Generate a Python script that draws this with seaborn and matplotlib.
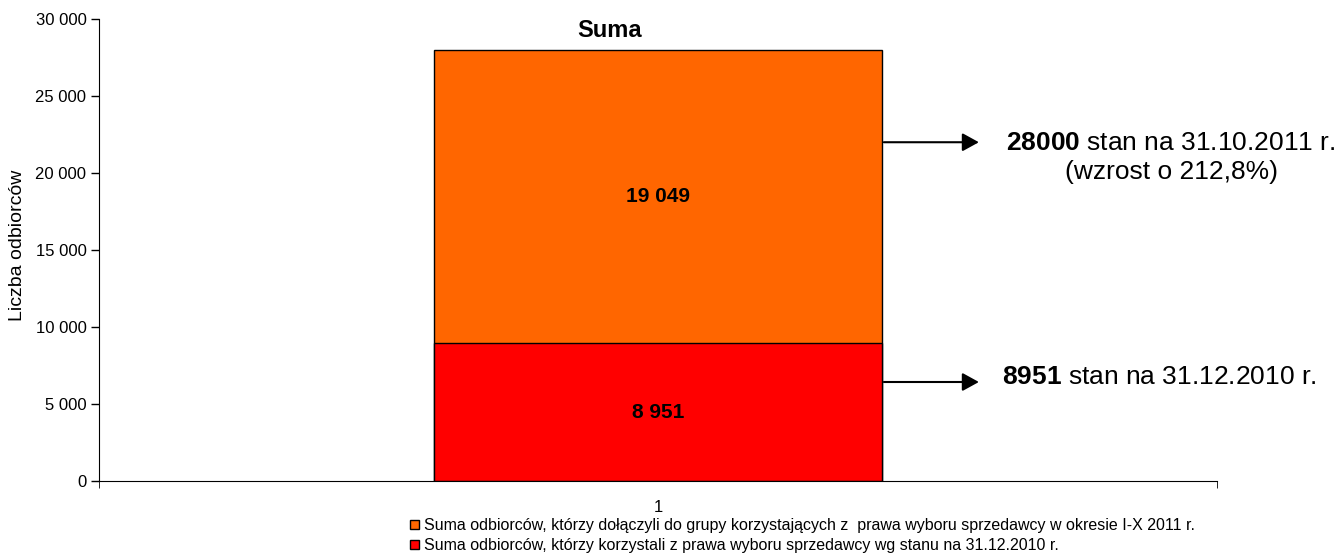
import matplotlib
matplotlib.use("Agg")
import matplotlib.pyplot as plt
import seaborn as sns
import pandas as pd

categories = ["1"]
base_values = [8951]      # stan na 31.12.2010
added_values = [19049]    # dołączyli w okresie I-X 2011
total_values = [b + a for b, a in zip(base_values, added_values)]
growth_pct = "212,8%"

label_added = ("Suma odbiorców, którzy dołączyli do grupy korzystających z  prawa "
               "wyboru sprzedawcy w okresie I-X 2011 r.")
label_base = ("Suma odbiorców, którzy korzystali z prawa wyboru sprzedawcy "
              "wg stanu na 31.12.2010 r.")

sns.set_style("white")
plt.rcParams["font.family"] = ["Liberation Sans", "DejaVu Sans"]
plt.rcParams["mathtext.fontset"] = "custom"
plt.rcParams["mathtext.rm"] = "Liberation Sans"
plt.rcParams["mathtext.bf"] = "Liberation Sans:bold"
for k in ["text.color", "axes.labelcolor", "xtick.color", "ytick.color"]:
    plt.rcParams[k] = "black"

df = pd.DataFrame({"kat": categories, "base": base_values, "total": total_values})


def fmt(v):
    return f"{v:,.0f}".replace(",", " ")


fig = plt.figure(figsize=(13.43, 5.55), dpi=100)
ax = fig.add_axes([0.0737, 0.1333, 0.8325, 0.8324])

sns.barplot(data=df, x="kat", y="total", color="#FF6600", edgecolor="black",
            linewidth=1, width=0.4, saturation=1, ax=ax, label=label_added)
sns.barplot(data=df, x="kat", y="base", color="#FF0000", edgecolor="black",
            linewidth=1, width=0.4, saturation=1, ax=ax, label=label_base)

# segment labels
top_patch = ax.patches[0]
bot_patch = ax.patches[1]
ax.text(top_patch.get_x() + top_patch.get_width() / 2, base_values[0] + added_values[0] / 2,
        fmt(added_values[0]), ha="center", va="center", fontsize=15, fontweight="bold")
ax.text(bot_patch.get_x() + bot_patch.get_width() / 2, base_values[0] / 2,
        fmt(base_values[0]), ha="center", va="center", fontsize=15, fontweight="bold")

ax.set_ylim(0, 30000)
ax.set_xlim(-0.5, 0.5)
ax.set_yticks(range(0, 30001, 5000))
ax.set_yticklabels([fmt(v) for v in range(0, 30001, 5000)], fontsize=12)
ax.tick_params(axis="y", direction="out", length=6, width=1, color="black", left=True, pad=3)
ax.tick_params(axis="x", length=0, labelsize=12, pad=14)
ax.set_xticks([-0.5, 0.5], minor=True)
ax.tick_params(axis="x", which="minor", direction="out", length=5, bottom=True)
ax.set_xlabel("")
ax.set_ylabel("")
for s in ["top", "right"]:
    ax.spines[s].set_visible(False)
ax.spines["left"].set_color("black")
ax.spines["bottom"].set_color("black")

fig.text(18 / 1343, 1 - 245 / 555, "Liczba odbiorców", rotation=90,
         ha="center", va="center", fontsize=14)

ax.text(-0.043, 29270, "Suma", ha="center", va="center", fontsize=17, fontweight="bold")

# arrows with annotations
edge = top_patch.get_x() + top_patch.get_width()
arrow_kw = dict(arrowstyle="-|>,head_length=1.0,head_width=0.55", color="black",
                lw=1.5, shrinkA=0, shrinkB=0, mutation_scale=10)
ax.annotate("", xy=(edge + 0.087, 22000), xytext=(edge + 0.002, 22000),
            arrowprops=arrow_kw, annotation_clip=False)
ax.annotate("", xy=(edge + 0.087, 6430), xytext=(edge + 0.002, 6430),
            arrowprops=arrow_kw, annotation_clip=False)

ax.text(0.459, 21950,
        r"$\mathbf{" + str(total_values[0]) + r"}$ stan na 31.10.2011 r.",
        ha="center", va="center", fontsize=19, clip_on=False)
ax.text(0.459, 20070, f"(wzrost o {growth_pct})",
        ha="center", va="center", fontsize=19, clip_on=False)
ax.text(0.3077, 6750,
        r"$\mathbf{" + str(base_values[0]) + r"}$ stan na 31.12.2010 r.",
        ha="left", va="center", fontsize=19, clip_on=False)

handles, labels = ax.get_legend_handles_labels()
leg = fig.legend(handles, labels, loc="upper left", bbox_to_anchor=(410 / 1343, 1 - 518 / 555),
                 frameon=False, fontsize=11.5, handlelength=0.55, handleheight=0.55,
                 handletextpad=0.35, labelspacing=0.32, borderaxespad=0, borderpad=0)
if ax.get_legend() is not None:
    ax.get_legend().remove()

fig.savefig("out.png", dpi=100)
